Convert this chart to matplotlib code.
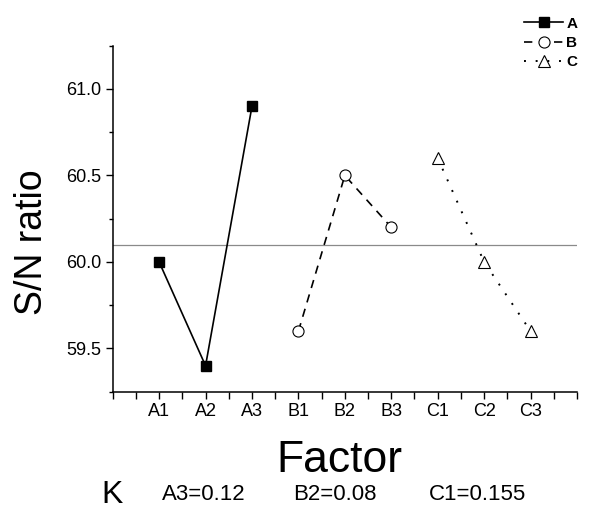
import matplotlib
matplotlib.use("Agg")
import matplotlib.pyplot as plt
from matplotlib.ticker import MultipleLocator, FixedLocator

plt.rcParams['font.family'] = ['Liberation Sans', 'DejaVu Sans']

# Data
factor_labels = ["A1", "A2", "A3", "B1", "B2", "B3", "C1", "C2", "C3"]
sn_a = [60.0, 59.4, 60.9]
sn_b = [59.6, 60.5, 60.2]
sn_c = [60.6, 60.0, 59.6]
mean_sn = 60.1
k_texts = ["A3=0.12", "B2=0.08", "C1=0.155"]

W, H = 600, 513
fig = plt.figure(figsize=(W / 100, H / 100), dpi=100)
ax = fig.add_axes([112.7 / W, 1 - 391.7 / H, (577 - 112.7) / W, (391.7 - 45.7) / H])

xa = [1, 2, 3]
xb = [4, 5, 6]
xc = [7, 8, 9]

ax.axhline(mean_sn, color='#8a8a8a', lw=0.9, zorder=1)
ax.plot(xa, sn_a, '-', color='black', lw=1.2, marker='s', ms=7.5,
        mfc='black', mec='black', label='A', zorder=3)
ax.plot(xb, sn_b, '--', color='black', lw=1.2, marker='o', ms=8,
        mfc='white', mec='black', mew=0.8, dashes=(5, 4), label='B', zorder=3)
ax.plot(xc, sn_c, ':', color='black', lw=1.4, marker='^', ms=9,
        mfc='white', mec='black', mew=0.8, dashes=(1, 5), label='C', zorder=3)

ax.set_xlim(0, 10)
ax.set_ylim(59.25, 61.25)

xt = [i * 0.5 for i in range(21)]
ax.xaxis.set_major_locator(FixedLocator(xt))
ax.set_xticklabels([factor_labels[int(t) - 1] if (t == int(t) and 1 <= t <= 9) else ''
                    for t in xt])
ax.yaxis.set_major_locator(FixedLocator([59.5, 60.0, 60.5, 61.0]))
ax.yaxis.set_minor_locator(MultipleLocator(0.25))
ax.set_yticklabels(["59.5", "60.0", "60.5", "61.0"])

ax.tick_params(axis='both', which='major', direction='out', length=5, width=1,
               labelsize=13, pad=3)
ax.tick_params(axis='y', which='minor', direction='out', length=3, width=1)

for s in ['top', 'right']:
    ax.spines[s].set_visible(False)
for s in ['left', 'bottom']:
    ax.spines[s].set_linewidth(1.1)

# legend outside the axes, upper right
fig.legend(loc='upper left', bbox_to_anchor=(516 / W, 1 - 9 / H),
           frameon=False, handlelength=2.6, handletextpad=0.2,
           labelspacing=0.35, borderpad=0, markerscale=1.0,
           prop={'weight': 'bold', 'size': 11})

fig.text(32 / W, 1 - 242 / H, "S/N ratio", rotation=90, ha='center', va='center',
         fontsize=27)
fig.text(339 / W, 1 - 472 / H, "Factor", ha='center', va='baseline', fontsize=32)
fig.text(101 / W, 1 - 503 / H, "K", ha='left', va='baseline', fontsize=23)
k_x = [162, 293, 429]
for x, t in zip(k_x, k_texts):
    fig.text(x / W, 1 - 500 / H, t, ha='left', va='baseline', fontsize=16)

fig.savefig("out.png", dpi=100)
